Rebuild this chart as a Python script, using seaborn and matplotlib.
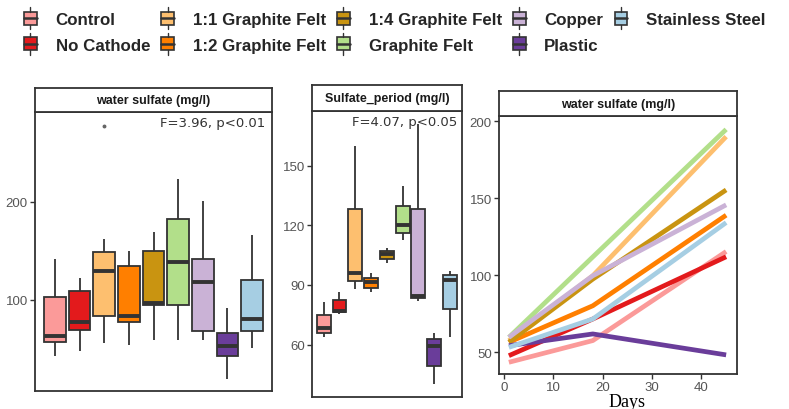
import matplotlib
matplotlib.use("Agg")
import matplotlib.pyplot as plt
import seaborn as sns
import pandas as pd
import numpy as np
from matplotlib.legend_handler import HandlerBase
from matplotlib.patches import Rectangle, Patch
from matplotlib.lines import Line2D

groups = ["Control", "No Cathode", "1:1 Graphite Felt", "1:2 Graphite Felt",
          "1:4 Graphite Felt", "Graphite Felt", "Copper", "Plastic", "Stainless Steel"]
colors = ["#FB9A99", "#E31A1C", "#FDBF6F", "#FF7F00", "#C99411",
          "#B2DF8A", "#CAB2D6", "#6A3D9A", "#A6CEE3"]

# Panel 1: water sulfate (mg/l) observations per group
water_control = [43, 56.5, 62.5, 103, 141]
water_nocathode = [48, 69, 77.5, 108.5, 122]
water_gf11 = [56, 70, 83, 110, 129, 140, 149, 162, 277.5]
water_gf12 = [54, 77.5, 83, 134.5, 150]
water_gf14 = [59, 94.5, 96.5, 150, 168.5]
water_gf = [59, 94.5, 138.5, 182, 223]
water_copper = [59, 68, 118, 141.5, 201]
water_plastic = [19, 43, 53, 66, 91]
water_steel = [51, 67.5, 80, 119.5, 166]

# Panel 2: Sulfate_period (mg/l)
period_control = [63.7, 65.7, 68.5, 74.8, 81.2]
period_nocathode = [75.3, 76.5, 77.0, 82.5, 86.5]
period_gf11 = [87.8, 91.8, 96, 128, 160]
period_gf12 = [86.2, 88.3, 91.5, 93.5, 96]
period_gf14 = [100.8, 102.8, 105.8, 107, 108.7]
period_gf = [112.5, 116.2, 120, 129.8, 139.5]
period_copper = [82, 83.2, 84.5, 128, 171]
period_plastic = [40, 49, 59.5, 63, 66]
period_steel = [63.7, 77.8, 92.5, 94.8, 97]

# Panel 3: water sulfate over time
days = [1, 18, 45]
ts_control = [43.5, 57.6, 115.4]
ts_nocathode = [47.8, 71.6, 112]
ts_gf11 = [57.6, 99.7, 190]
ts_gf12 = [56.5, 80.2, 139]
ts_gf14 = [56.5, 97.5, 155.4]
ts_gf = [59.7, 111.9, 194.7]
ts_copper = [59.7, 99.7, 145.7]
ts_plastic = [54.3, 61.9, 48.3]
ts_steel = [53.2, 71.6, 134.2]

water = [water_control, water_nocathode, water_gf11, water_gf12, water_gf14,
         water_gf, water_copper, water_plastic, water_steel]
period = [period_control, period_nocathode, period_gf11, period_gf12, period_gf14,
          period_gf, period_copper, period_plastic, period_steel]
series = [ts_control, ts_nocathode, ts_gf11, ts_gf12, ts_gf14,
          ts_gf, ts_copper, ts_plastic, ts_steel]

def long_df(lists):
    rows = []
    for g, vals in zip(groups, lists):
        for v in vals:
            rows.append((g, v))
    return pd.DataFrame(rows, columns=["group", "value"])

df_water = long_df(water)
df_period = long_df(period)
rows = []
for g, vals in zip(groups, series):
    for d, v in zip(days, vals):
        rows.append((g, d, v))
df_ts = pd.DataFrame(rows, columns=["group", "day", "value"])

sns.set_style("white")
plt.rcParams["font.family"] = ["Liberation Sans", "DejaVu Sans"]

W, H = 789, 410
fig = plt.figure(figsize=(W / 100, H / 100), dpi=100)

EDGE = "#333333"
TICKC = "#555555"

def add_ax(left, right, top, bottom):
    return fig.add_axes([left / W, 1 - bottom / H, (right - left) / W, (bottom - top) / H])

def style_ax(ax):
    for s in ax.spines.values():
        s.set_visible(True)
        s.set_color(EDGE)
        s.set_linewidth(1.3)
    ax.tick_params(axis="both", colors=EDGE, length=3.6, width=1.0,
                   labelcolor=TICKC, labelsize=9.5, left=True, bottom=True, pad=1.5)
    ax.set_xlabel("")
    ax.set_ylabel("")

def strip(left, right, top, bottom, text):
    sa = add_ax(left, right, top, bottom)
    sa.set_xticks([])
    sa.set_yticks([])
    sa.set_facecolor("white")
    for s in sa.spines.values():
        s.set_visible(True)
        s.set_color(EDGE)
        s.set_linewidth(1.3)
    sa.text(0.5, 0.5, text, ha="center", va="center", fontsize=9,
            fontweight="bold", color="#1a1a1a", transform=sa.transAxes)

box_kw = dict(x="group", y="value", hue="group", order=groups, hue_order=groups,
              palette=colors, saturation=1, width=0.88, linecolor=EDGE,
              linewidth=1.3, legend=False, showcaps=False,
              medianprops=dict(linewidth=2.8, color=EDGE),
              flierprops=dict(marker="o", markersize=1.8, markerfacecolor="#666666",
                              markeredgecolor="#666666"))

# Panel 1
ax1 = add_ax(35, 272, 113.3, 392.3)
sns.boxplot(data=df_water, ax=ax1, **box_kw)
ax1.set_xlim(-0.81, 8.81)
ax1.set_ylim(6.5, 291)
ax1.set_yticks([100, 200])
ax1.set_xticks([])
style_ax(ax1)
ax1.tick_params(axis="x", bottom=False)
ax1.text(0.97, 0.985, "F=3.96, p<0.01", transform=ax1.transAxes, ha="right",
         va="top", fontsize=9.5, color="#333333", family="DejaVu Sans")
strip(35, 272, 89, 113.3, "water sulfate (mg/l)")

# Panel 2
ax2 = add_ax(312, 462, 111.7, 398.3)
sns.boxplot(data=df_period, ax=ax2, **box_kw)
ax2.set_xlim(-0.74, 8.76)
ax2.set_ylim(33.5, 177.6)
ax2.set_yticks([60, 90, 120, 150])
ax2.set_xticks([])
style_ax(ax2)
ax2.tick_params(axis="x", bottom=False)
ax2.text(0.97, 0.985, "F=4.07, p<0.05", transform=ax2.transAxes, ha="right",
         va="top", fontsize=9.5, color="#333333", family="DejaVu Sans")
strip(312, 462, 85.7, 111.7, "Sulfate_period (mg/l)")

# Panel 3
ax3 = add_ax(499, 737, 117.3, 375.3)
sns.lineplot(data=df_ts, x="day", y="value", hue="group", hue_order=groups,
             palette=colors, linewidth=3.4, legend=False, ax=ax3,
             solid_capstyle="butt")
ax3.set_xlim(-1.0, 47.2)
ax3.set_ylim(35.7, 203.2)
ax3.set_yticks([50, 100, 150, 200])
ax3.set_xticks([0, 10, 20, 30, 40])
style_ax(ax3)
strip(499, 737, 91.7, 117.3, "water sulfate (mg/l)")
fig.text(627 / W, 1 - 394 / H, "Days", ha="center", va="top", fontsize=13,
         family="Liberation Serif", color="black")

# Legend
class BoxHandler(HandlerBase):
    def create_artists(self, legend, orig_handle, xdescent, ydescent, width,
                       height, fontsize, trans):
        fc = orig_handle.get_facecolor()
        cy = height / 2 - ydescent
        bw = width
        bh = 9.4
        x0 = -xdescent
        rect = Rectangle((x0, cy - bh / 2), bw, bh, facecolor=fc,
                         edgecolor=EDGE, linewidth=1.2, transform=trans)
        med = Line2D([x0, x0 + bw], [cy, cy], color=EDGE, linewidth=1.8,
                     transform=trans)
        wu = Line2D([x0 + bw / 2] * 2, [cy + bh / 2, cy + 7.9], color=EDGE,
                    linewidth=1.0, transform=trans)
        wl = Line2D([x0 + bw / 2] * 2, [cy - bh / 2, cy - 7.9], color=EDGE,
                    linewidth=1.0, transform=trans)
        return [rect, med, wu, wl]

handles = [Patch(facecolor=c) for c in colors]
fig.legend(handles, groups, loc="upper left",
           bbox_to_anchor=(24 / W, 1 - 13 / H), ncol=5, frameon=False,
           borderpad=0, borderaxespad=0, handlelength=0.76, handletextpad=1.1,
           columnspacing=0.66, labelspacing=0.64,
           prop=dict(weight="bold", size=12.2, family="Liberation Sans"),
           handler_map={Patch: BoxHandler()})

fig.savefig("out.png", dpi=100)
